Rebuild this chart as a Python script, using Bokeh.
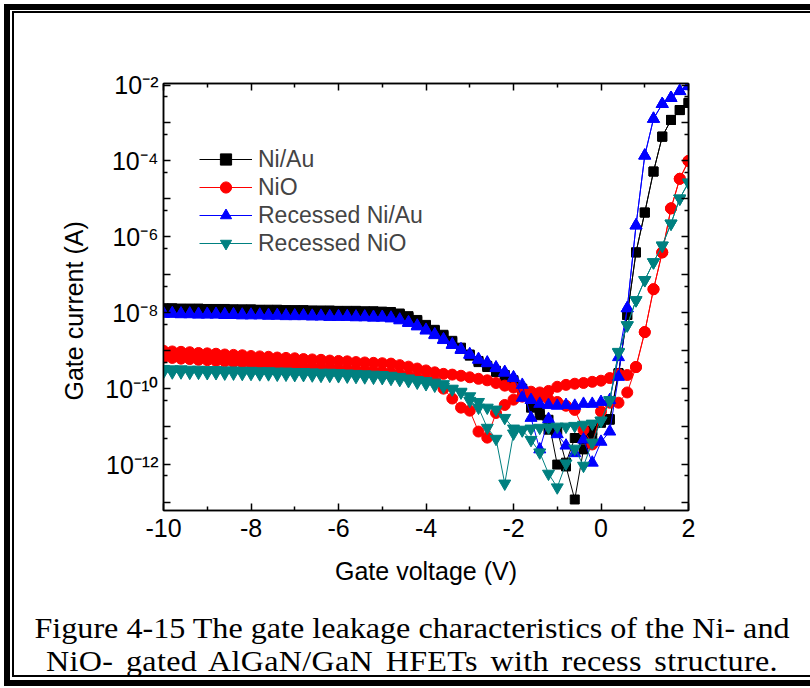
from bokeh.plotting import figure
from bokeh.models import (FixedTicker, LinearAxis, LogAxis, Legend, LegendItem,
                          Range1d, Column, Div)
from bokeh.embed import file_html
from bokeh.resources import INLINE

# ---------------- data ----------------
voltage = [-10.0, -9.8, -9.6, -9.4, -9.2, -9.0, -8.8, -8.6, -8.4, -8.2,
           -8.0, -7.8, -7.6, -7.4, -7.2, -7.0, -6.8, -6.6, -6.4, -6.2,
           -6.0, -5.8, -5.6, -5.4, -5.2, -5.0, -4.8, -4.6, -4.4, -4.2,
           -4.0, -3.8, -3.6, -3.4, -3.2, -3.0, -2.8, -2.6, -2.4, -2.2,
           -2.0, -1.8, -1.6, -1.4, -1.2, -1.0, -0.8, -0.6, -0.4, -0.2,
           0.0, 0.2, 0.4, 0.6, 0.8, 1.0, 1.2, 1.4, 1.6, 1.8, 2.0]

# log10 of gate current (A); sweep 1 (up) and sweep 2 (down), both listed by voltage
ni_au_sweep1 = [-7.88, -7.88, -7.89, -7.89, -7.89, -7.90, -7.90, -7.90, -7.91, -7.91,
                -7.91, -7.92, -7.92, -7.92, -7.93, -7.93, -7.93, -7.94, -7.94, -7.94,
                -7.95, -7.95, -7.95, -7.96, -7.96, -7.97, -7.98, -8.02, -8.09, -8.19,
                -8.32, -8.45, -8.58, -8.74, -8.92, -9.10, -9.27, -9.40, -9.53, -9.64,
                -9.78, -10.00, -10.35, -10.56, -10.82, -12.00, -12.05, -12.92, -11.60, -11.27,
                -10.87, -10.82, -9.60, -8.06, -6.41, -5.36, -4.28, -3.36, -2.92, -2.66, -2.47]
ni_au_sweep2 = [-7.90, -7.90, -7.90, -7.91, -7.91, -7.91, -7.92, -7.92, -7.92, -7.93,
                -7.93, -7.93, -7.94, -7.94, -7.94, -7.95, -7.95, -7.95, -7.96, -7.96,
                -7.96, -7.97, -7.97, -7.98, -7.98, -7.99, -8.00, -8.05, -8.12, -8.22,
                -8.35, -8.47, -8.61, -8.77, -8.95, -9.13, -9.30, -9.43, -9.56, -9.68,
                -9.82, -10.05, -10.50, -10.70, -11.08, -11.10, -11.95, -11.30, -11.34, -11.10,
                -10.90, -10.80, -9.59, -8.06, -6.41, -5.36, -4.28, -3.36, -2.92, -2.66, -2.47]

nio_sweep1 = [-9.00, -9.02, -9.03, -9.04, -9.06, -9.07, -9.08, -9.10, -9.11, -9.12,
              -9.14, -9.15, -9.16, -9.18, -9.19, -9.20, -9.22, -9.23, -9.24, -9.26,
              -9.27, -9.28, -9.30, -9.31, -9.32, -9.33, -9.34, -9.38, -9.42, -9.47,
              -9.52, -9.57, -9.61, -9.63, -9.66, -9.70, -9.74, -9.78, -9.85, -9.92,
              -9.97, -10.04, -10.08, -10.10, -10.06, -9.95, -9.90, -9.87, -9.85, -9.82,
              -9.79, -9.72, -9.62, -9.64, -9.43, -8.51, -7.38, -6.41, -5.25, -4.47, -4.00]
nio_sweep2 = [-9.18, -9.19, -9.21, -9.22, -9.24, -9.25, -9.27, -9.28, -9.30, -9.31,
              -9.33, -9.34, -9.36, -9.37, -9.39, -9.40, -9.42, -9.43, -9.45, -9.46,
              -9.48, -9.49, -9.51, -9.52, -9.54, -9.55, -9.58, -9.62, -9.66, -9.70,
              -9.75, -9.80, -10.00, -10.26, -10.50, -10.58, -11.13, -11.29, -10.64, -10.43,
              -10.29, -10.21, -10.20, -10.22, -10.28, -10.35, -10.45, -10.56, -11.08, -11.47,
              -10.60, -10.37, -10.37, -10.10, -9.43, -8.51, -7.38, -6.41, -5.25, -4.47, -4.00]

rec_ni_au_sweep1 = [-8.03, -8.03, -8.04, -8.04, -8.05, -8.05, -8.05, -8.06, -8.06, -8.07,
                    -8.07, -8.07, -8.08, -8.08, -8.09, -8.09, -8.09, -8.10, -8.10, -8.11,
                    -8.11, -8.11, -8.12, -8.12, -8.13, -8.13, -8.15, -8.20, -8.27, -8.36,
                    -8.47, -8.59, -8.72, -8.85, -8.98, -9.11, -9.24, -9.33, -9.46, -9.58,
                    -9.72, -9.90, -10.77, -11.60, -10.80, -11.20, -11.50, -11.70, -11.34, -11.95,
                    -11.40, -11.13, -9.69, -7.88, -5.70, -3.86, -2.89, -2.50, -2.34, -2.16, -2.03]
rec_ni_au_sweep2 = [-8.01, -8.01, -8.02, -8.02, -8.03, -8.03, -8.03, -8.04, -8.04, -8.05,
                    -8.05, -8.05, -8.06, -8.06, -8.07, -8.07, -8.07, -8.08, -8.08, -8.09,
                    -8.09, -8.09, -8.10, -8.10, -8.11, -8.11, -8.13, -8.18, -8.25, -8.34,
                    -8.45, -8.57, -8.70, -8.83, -8.96, -9.09, -9.22, -9.31, -9.44, -9.56,
                    -9.70, -10.24, -10.30, -10.40, -10.43, -10.45, -10.43, -10.45, -10.40, -10.40,
                    -10.35, -10.30, -9.17, -7.88, -5.70, -3.86, -2.89, -2.50, -2.34, -2.16, -2.03]

rec_nio_sweep1 = [-9.48, -9.49, -9.49, -9.50, -9.50, -9.51, -9.51, -9.52, -9.52, -9.53,
                  -9.53, -9.54, -9.54, -9.55, -9.55, -9.56, -9.56, -9.57, -9.58, -9.58,
                  -9.59, -9.60, -9.61, -9.62, -9.63, -9.64, -9.66, -9.69, -9.73, -9.77,
                  -9.80, -9.84, -9.88, -10.00, -10.10, -10.32, -10.50, -11.03, -11.32, -12.50,
                  -11.18, -11.10, -11.35, -11.68, -12.24, -12.60, -11.97, -11.58, -12.03, -11.42,
                  -10.84, -10.32, -9.03, -8.33, -7.67, -7.14, -6.67, -6.23, -5.65, -4.99, -4.57]
rec_nio_sweep2 = [-9.56, -9.57, -9.57, -9.58, -9.58, -9.59, -9.59, -9.60, -9.60, -9.61,
                  -9.61, -9.62, -9.62, -9.63, -9.63, -9.64, -9.64, -9.65, -9.66, -9.66,
                  -9.67, -9.68, -9.69, -9.70, -9.71, -9.72, -9.74, -9.77, -9.80, -9.84,
                  -9.88, -9.92, -9.95, -10.02, -10.08, -10.20, -10.35, -10.50, -10.55, -10.77,
                  -11.05, -11.08, -11.05, -11.03, -11.02, -11.00, -11.00, -10.98, -10.95, -10.92,
                  -10.85, -10.30, -9.05, -8.33, -7.67, -7.14, -6.67, -6.23, -5.65, -4.99, -4.57]

series_names = ["Ni/Au", "NiO", "Recessed Ni/Au", "Recessed NiO"]
series_colors = ["#000000", "#ff0000", "#0000ff", "#008080"]
series_markers = ["square", "circle", "triangle", "inverted_triangle"]
series_sizes = [9, 11, 12, 12]
series_data = [(ni_au_sweep1, ni_au_sweep2), (nio_sweep1, nio_sweep2),
               (rec_ni_au_sweep1, rec_ni_au_sweep2), (rec_nio_sweep1, rec_nio_sweep2)]

x_ticks = [-10, -8, -6, -4, -2, 0, 2]
x_minor = [-9, -7, -5, -3, -1, 1]
x_tick_labels = {-10: "-10", -8: "-8", -6: "-6", -4: "-4", -2: "-2", 0: "0", 2: "2"}
y_ticks = [1e-13, 1e-12, 1e-11, 1e-10, 1e-9, 1e-8, 1e-7, 1e-6, 1e-5, 1e-4, 1e-3, 1e-2]
y_minor = [5e-13, 5e-12, 5e-11, 5e-10, 5e-9, 5e-8, 5e-7, 5e-6, 5e-5, 5e-4, 5e-3]
y_tick_labels = {1e-13: "", 1e-12: "10\u207b\u00b9\u00b2", 1e-11: "", 1e-10: "10\u207b\u00b9\u2070",
                 1e-9: "", 1e-8: "10\u207b\u2078", 1e-7: "", 1e-6: "10\u207b\u2076",
                 1e-5: "", 1e-4: "10\u207b\u2074", 1e-3: "", 1e-2: "10\u207b\u00b2"}

x_title = "Gate voltage (V)"
y_title = "Gate current (A)"
caption_1 = "Figure 4-15 The gate leakage characteristics of the Ni- and"
caption_2 = "NiO- gated AlGaN/GaN HFETs with recess structure."

SANS = "Liberation Sans"
SERIF = "Liberation Serif"

# ---------------- figure ----------------
fig = figure(width=796, height=598, output_backend="svg", toolbar_location=None,
             x_range=Range1d(-10, 2), y_range=Range1d(10 ** -13.21, 10 ** -1.96),
             y_axis_type="log",
             min_border_left=149, min_border_right=122, min_border_top=70, min_border_bottom=101)
fig.grid.visible = False
fig.outline_line_color = "black"
fig.outline_line_width = 1.5
fig.background_fill_color = "white"
fig.border_fill_color = "white"

xticker = FixedTicker(ticks=x_ticks, minor_ticks=x_minor)
yticker = FixedTicker(ticks=y_ticks, minor_ticks=y_minor)

def style_axis(ax):
    ax.axis_line_width = 1.5
    ax.major_tick_line_width = 1.5
    ax.minor_tick_line_width = 1.5
    ax.major_tick_in = 7
    ax.major_tick_out = 0
    ax.minor_tick_in = 4
    ax.minor_tick_out = 0
    ax.major_label_text_font = SANS
    ax.major_label_text_font_size = "25px"
    ax.major_label_text_color = "black"
    ax.axis_label_text_font = SANS
    ax.axis_label_text_font_style = "normal"
    ax.axis_label_text_color = "black"
    ax.axis_label_text_font_size = "25px"

xa = fig.xaxis[0]
xa.ticker = xticker
style_axis(xa)
xa.major_label_overrides = x_tick_labels
xa.major_label_standoff = 8
xa.axis_label = x_title
xa.axis_label_standoff = 17

ya = fig.yaxis[0]
ya.ticker = yticker
style_axis(ya)
ya.major_label_overrides = y_tick_labels
ya.major_label_standoff = 5
# the label sits a little below the frame's middle in the reference
ya.axis_label = y_title + "\u00a0" * 4
ya.axis_label_standoff = 14

top_ax = LinearAxis(ticker=xticker)
style_axis(top_ax)
top_ax.major_label_overrides = {t: "" for t in x_ticks}
fig.add_layout(top_ax, "above")
right_ax = LogAxis(ticker=yticker)
style_axis(right_ax)
right_ax.major_label_overrides = {t: "" for t in y_ticks}
fig.add_layout(right_ax, "right")

items = []
for name, color, marker, size, (s1, s2) in zip(series_names, series_colors, series_markers,
                                               series_sizes, series_data):
    xs = voltage + voltage[::-1]
    ys = [10 ** v for v in s1] + [10 ** v for v in s2[::-1]]
    lr = fig.line(xs, ys, line_color=color, line_width=1)
    sr = fig.scatter(xs, ys, marker=marker, size=size, fill_color=color, line_color=color)
    items.append(LegendItem(label=name, renderers=[lr, sr]))

legend = Legend(items=items, location=(36, 253), padding=0, margin=0, spacing=0,
                glyph_width=53, glyph_height=28, label_height=28, label_standoff=6,
                label_text_font=SANS, label_text_font_size="23px",
                border_line_alpha=0, background_fill_alpha=0)
fig.add_layout(legend, "center")

line_css = ("text-align: center; transform-origin: 398px 50%; white-space: nowrap;")
caption = Div(
    text=('<div style="width: 796px; font-family: \'Liberation Serif\', serif; font-size: 30px; '
          'line-height: 33.3px; color: black;">'
          '<div style="' + line_css + ' transform: scaleX(1.071);">' + caption_1 + '</div>'
          '<div style="' + line_css + ' transform: scaleX(1.07); word-spacing: 4px; '
          'letter-spacing: 0.3px;">' + caption_2 + '</div></div>'),
    width=796, height=64, margin=(0, 0, 0, 0))

inner_box = Column(fig, caption, spacing=0,
                   styles={"border-left": "2px solid black", "border-top": "2px solid black",
                           "border-bottom": "2px solid black", "box-sizing": "content-box"})
outer_box = Column(inner_box, spacing=0,
                   styles={"border-left": "6px solid black", "border-top": "6px solid black",
                           "border-bottom": "6px solid black", "padding": "1px 0px 3px 2px",
                           "box-sizing": "content-box"})
p = Column(outer_box, spacing=0,
           styles={"padding": "4px 0px 0px 4px", "box-sizing": "content-box"})

open("out.html", "w").write(file_html(p, INLINE))
